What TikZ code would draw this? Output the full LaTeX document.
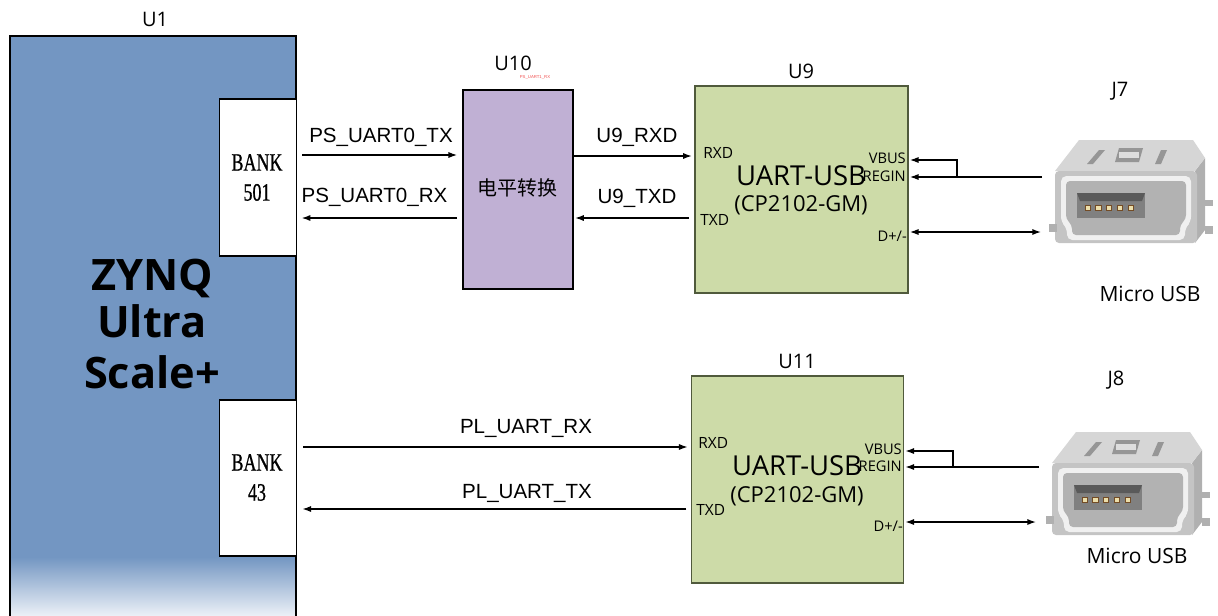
\documentclass[tikz,border=0pt]{standalone}
\usepackage{fontspec}
\setmainfont{Open Sans}
\newfontfamily\arialf{Liberation Sans}
\newfontfamily\timesf[FakeBold=0.9]{Liberation Serif}
\newfontfamily\cjkf{Noto Sans CJK SC}
\usetikzlibrary{arrows.meta,calc}
\definecolor{u1blue}{RGB}{115,150,194}
\definecolor{u1white}{RGB}{238,242,248}
\definecolor{lav}{RGB}{192,176,212}
\definecolor{grn}{RGB}{205,219,168}
\definecolor{grnborder}{RGB}{80,90,60}
\definecolor{usbtop}{RGB}{214,214,214}
\definecolor{usbside}{RGB}{176,176,176}
\definecolor{usbfront}{RGB}{196,196,196}
\definecolor{usbrim}{RGB}{240,240,240}
\definecolor{usbhole}{RGB}{178,178,178}
\definecolor{usbtongue}{RGB}{128,128,128}
\definecolor{usbtongue2}{RGB}{90,90,90}
\definecolor{usbdark}{RGB}{150,150,150}
\definecolor{pin}{RGB}{236,222,170}
\definecolor{redtxt}{RGB}{240,80,80}
\newcommand\usbconn[2]{%
\begin{scope}[shift={(#1,#2)}]
 \fill[usbside] (86,-37) -- (96,-50) -- (96,22) -- (86,35) -- cycle;
 \fill[usbside] (96,-8) rectangle (104,-2);
 \fill[usbside] (96,18) rectangle (104,26);
 \fill[usbtop] (-54,-37) -- (-30,-68) -- (84,-68) -- (96,-50) -- (86,-37) -- cycle;
 \fill[usbdark] (-22,-44) -- (-10,-58) -- (-4,-58) -- (-16,-44) -- cycle;
 \fill[usbdark] (6,-46) -- (10,-60) -- (34,-60) -- (30,-46) -- cycle;
 \fill[usbtop!80!white] (10,-56) rectangle (30,-50);
 \fill[usbdark] (46,-44) -- (52,-58) -- (58,-58) -- (52,-44) -- cycle;
 \fill[usbfront, rounded corners=3pt] (-54,-37) rectangle (88,35);
 \fill[usbside] (-60,16) rectangle (-52,24);
 \fill[usbrim, rounded corners=4pt] (-48,-32) -- (82,-32) -- (82,14) -- (76,20) -- (76,32) -- (-42,32) -- (-42,20) -- (-48,14) -- cycle;
 \fill[usbhole, rounded corners=3pt] (-43,-27) -- (77,-27) -- (77,11) -- (71,17) -- (71,27) -- (-37,27) -- (-37,17) -- (-43,11) -- cycle;
 \fill[usbtongue] (-32,-15) rectangle (36,10);
 \fill[usbtongue2] (-32,-15) -- (36,-15) -- (33,-7) -- (-29,-7) -- cycle;
 \foreach \i in {-2,...,2}
   \filldraw[fill=pin, draw=brown!60!black, line width=0.2pt] (\i*10.8-2.6,-2.6) rectangle (\i*10.8+2.6,2.6);
\end{scope}}
\tikzset{
  box/.style={draw, line width=0.8pt, inner sep=0pt},
  sig/.style={line width=1pt, -{Latex[length=6.5pt,width=4.6pt]}},
  dsig/.style={line width=1pt, {Latex[length=6.5pt,width=4.6pt]}-{Latex[length=6.5pt,width=4.6pt]}},
  ulab/.style={font=\fontsize{15}{18}\selectfont, inner sep=0pt},
  slab/.style={font=\arialf\fontsize{15.4}{18}\selectfont, inner sep=0pt},
  banktxt/.style={font=\timesf\fontsize{18.75}{22.5}\selectfont, align=center, xscale=0.72, inner sep=0pt},
  pinlab/.style={font=\fontsize{11.6}{14}\selectfont, inner sep=0pt},
  vlab/.style={font=\fontsize{11}{13}\selectfont, inner sep=0pt, anchor=east},
  bigchip/.style={font=\fontsize{20.6}{24}\selectfont, inner sep=0pt},
  subchip/.style={font=\fontsize{16.5}{20}\selectfont, inner sep=0pt},
  zyn/.style={font=\bfseries\fontsize{32.5}{40}\selectfont, inner sep=0pt, anchor=base},
  usblab/.style={font=\fontsize{15.75}{18}\selectfont, inner sep=0pt}
}
\begin{document}
\begin{tikzpicture}[x=0.75pt,y=-0.75pt]
\useasboundingbox (0,0) rectangle (1218,615);
% U1
\node[inner sep=0pt, minimum width={286*0.75pt}, minimum height={580*0.75pt}] (u1) at (153,326) {};
\fill[u1blue] (10,36) rectangle (296,617);
\shade[top color=u1blue, bottom color=u1white] (10,557) rectangle (296,617);
\draw[line width=0.8pt] (10,617) -- (10,36) -- (296,36) -- (296,617);
\node[ulab] (u1lab) at (155,19) {U1};
\node[zyn] (z1) at (152,290) {ZYNQ};
\node[zyn] (z2) at (152,337) {Ultra};
\node[zyn] (z3) at (152,388) {Scale+};
% banks
\node[box, fill=white, minimum width={77*0.75pt}, minimum height={157*0.75pt}] (bank501) at (258,177.5) {};
\node[banktxt] (b501t) at (257,177.5) {BANK\\501};
\node[box, fill=white, minimum width={77*0.75pt}, minimum height={156*0.75pt}] (bank43) at (258,478) {};
\node[banktxt] (b43t) at (257,477.5) {BANK\\43};
% U10
\node[box, fill=lav, minimum width={110*0.75pt}, minimum height={199*0.75pt}] (u10) at (518,189.5) {};
\node[font=\cjkf\fontsize{15}{18}\selectfont, inner sep=0pt] (u10t) at (517,188) {电平转换};
\node[ulab] (u10lab) at (513,63) {U10};
\node[font=\arialf\fontsize{3.2}{4}\selectfont, text=redtxt, inner sep=0pt] (u10red) at (535,77) {PS\_UART1\_RX};
% U9
\node[box, draw=grnborder, fill=grn, minimum width={213*0.75pt}, minimum height={207*0.75pt}] (u9) at (801.5,189.5) {};
\node[ulab] (u9lab) at (801,71) {U9};
\node[pinlab, anchor=west] (u9rxd) at (703,153) {RXD};
\node[pinlab, anchor=west] (u9txd) at (700,220) {TXD};
\node[bigchip] (u9t1) at (801,176) {UART-USB};
\node[subchip] (u9t2) at (801,205) {(CP2102-GM)};
\node[vlab] (u9vbus) at (906,158) {VBUS};
\node[vlab] (u9regin) at (906,176) {REGIN};
\node[vlab] (u9dpm) at (907,236) {D+/-};
% U11
\node[box, draw=grnborder, fill=grn, minimum width={212*0.75pt}, minimum height={207*0.75pt}] (u11) at (797.5,479.5) {};
\node[ulab] (u11lab) at (797,361) {U11};
\node[pinlab, anchor=west] (u11rxd) at (698,443) {RXD};
\node[pinlab, anchor=west] (u11txd) at (696,510) {TXD};
\node[bigchip] (u11t1) at (797,466) {UART-USB};
\node[subchip] (u11t2) at (797,496) {(CP2102-GM)};
\node[vlab] (u11vbus) at (902,449) {VBUS};
\node[vlab] (u11regin) at (902,466) {REGIN};
\node[vlab] (u11dpm) at (903,526) {D+/-};
% connectors J7 / J8
\usbconn{1109}{208}
\usbconn{1106}{500}
\node[ulab] (j7) at (1120,91) {J7};
\node[ulab] (j8) at (1116,380) {J8};
\node[usblab] (j7t) at (1150,294) {Micro USB};
\node[usblab] (j8t) at (1137,556) {Micro USB};
\coordinate (j7r) at (1042,177);
\coordinate (j7v) at (957,177);
\coordinate (j7d) at (1041,232);
\coordinate (j8r) at (1039,467);
\coordinate (j8v) at (953,467);
\coordinate (j8d) at (1036,522);
% signal labels
\node[slab] (l1) at (381,137) {PS\_UART0\_TX};
\node[slab] (l2) at (374.5,197) {PS\_UART0\_RX};
\node[slab] (l3) at (637,137) {U9\_RXD};
\node[slab] (l4) at (637,198) {U9\_TXD};
\node[slab] (l5) at (526,428) {PL\_UART\_RX};
\node[slab] (l6) at (527,493) {PL\_UART\_TX};
% arrows upper
\draw[sig, shorten <=4pt, shorten >=4pt] (bank501.east |- 0,155) -- (u10.west |- 0,155);
\draw[sig, shorten <=4pt, shorten >=3.5pt] (u10.west |- 0,218) -- (bank501.east |- 0,218);
\draw[sig, shorten >=2pt] (u10.east |- 0,156) -- (u9.west |- 0,156);
\draw[sig, shorten <=4pt, shorten >=1.2pt] (u9.west |- 0,218) -- (u10.east |- 0,218);
\draw[sig, shorten >=1pt] (j7v) -- (j7v |- 0,160) -- (u9.east |- 0,160);
\draw[sig, shorten >=1pt] (j7r) -- (u9.east |- j7r);
\draw[dsig, shorten <=1pt] (u9.east |- j7d) -- (j7d);
% arrows lower
\draw[sig, shorten <=4.5pt, shorten >=2.5pt] (bank43.east |- 0,447) -- (u11.west |- 0,447);
\draw[sig, shorten <=3.5pt, shorten >=4pt] (u11.west |- 0,509) -- (bank43.east |- 0,509);
\draw[sig, shorten >=1pt] (j8v) -- (j8v |- 0,451) -- (u11.east |- 0,451);
\draw[sig, shorten >=1pt] (j8r) -- (u11.east |- j8r);
\draw[dsig, shorten <=1pt] (u11.east |- j8d) -- (j8d);
\end{tikzpicture}
\end{document}
